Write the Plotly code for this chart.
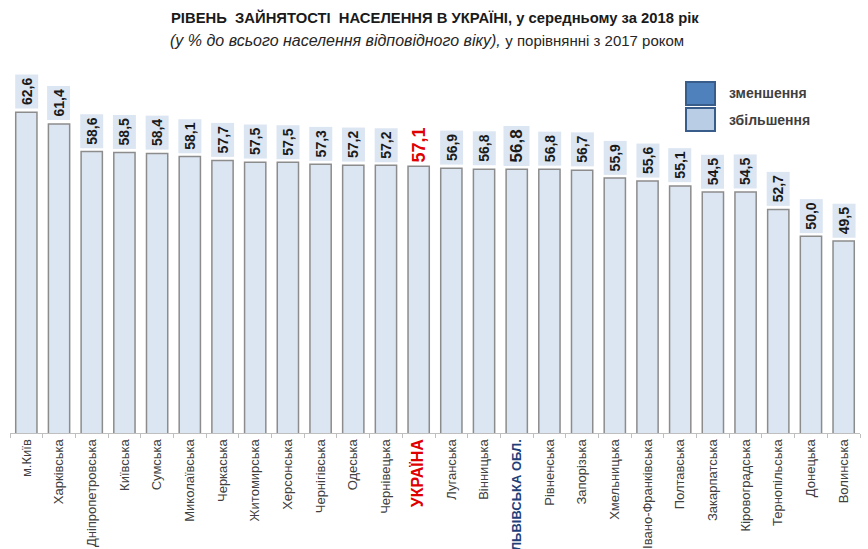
import plotly.graph_objects as go

regions = ["м.Київ", "Харківська", "Дніпропетровська", "Київська", "Сумська",
           "Миколаївська", "Черкаська", "Житомирська", "Херсонська", "Чернігівська",
           "Одеська", "Чернівецька", "УКРАЇНА", "Луганська", "Вінницька",
           "ЛЬВІВСЬКА ОБЛ.", "Рівненська", "Запорізька", "Хмельницька",
           "Івано-Франківська", "Полтавська", "Закарпатська", "Кіровоградська",
           "Тернопільська", "Донецька", "Волинська"]
values = [62.6, 61.4, 58.6, 58.5, 58.4, 58.1, 57.7, 57.5, 57.5, 57.3, 57.2, 57.2,
          57.1, 56.9, 56.8, 56.8, 56.8, 56.7, 55.9, 55.6, 55.1, 54.5, 54.5, 52.7,
          50.0, 49.5]
legend_labels = ["зменшення", "збільшення"]
legend_colors = ["#4f81bd", "#b9cde5"]

UKR = "УКРАЇНА"
LVIV = "ЛЬВІВСЬКА ОБЛ."
FONT = "Liberation Sans, Arial, sans-serif"

fig = go.Figure()
fig.add_trace(go.Bar(
    x=regions, y=values,
    marker=dict(color="#dce6f2", line=dict(color="#8c8c8c", width=1.5)),
    hoverinfo="skip",
))

ticktext = []
for r in regions:
    if r == UKR:
        ticktext.append("<b><span style='color:#e00000;font-size:16px'>%s</span></b>" % r)
    elif r == LVIV:
        ticktext.append("<b><span style='color:#1f3f7a;font-size:13px'>%s</span></b>" % r)
    else:
        ticktext.append(r)

annotations = []
for r, v in zip(regions, values):
    txt = ("%.1f" % v).replace(".", ",")
    if r == UKR:
        annotations.append(dict(x=r, y=v, text="<b>%s</b>" % txt, textangle=-90,
                                showarrow=False, yanchor="bottom", yshift=2,
                                font=dict(size=18, color="#e00000", family=FONT)))
    elif r == LVIV:
        annotations.append(dict(x=r, y=v, text="<b>%s</b>" % txt, textangle=-90,
                                showarrow=False, yanchor="bottom", yshift=3,
                                bgcolor="#dce6f2", borderpad=3,
                                font=dict(size=17, color="#1a1a1a", family=FONT)))
    else:
        annotations.append(dict(x=r, y=v, text="<b>%s</b>" % txt, textangle=-90,
                                showarrow=False, yanchor="bottom", yshift=3,
                                bgcolor="#dce6f2", borderpad=3,
                                font=dict(size=14, color="#1a1a1a", family=FONT)))

# title
annotations.append(dict(xref="paper", yref="paper", x=0.5, y=1, xanchor="center", yanchor="middle",
                        xshift=0, yshift=43, showarrow=False,
                        text="<b>РІВЕНЬ  ЗАЙНЯТОСТІ  НАСЕЛЕННЯ В УКРАЇНІ, у середньому за 2018 рік</b>",
                        font=dict(size=14.8, color="#1a1a1a", family=FONT)))
annotations.append(dict(xref="paper", yref="paper", x=0.5, y=1, xanchor="center", yanchor="middle",
                        xshift=-8, yshift=20, showarrow=False,
                        text="<i>(у % до всього населення відповідного віку),</i> <span style='font-size:15px'>у порівнянні з 2017 роком</span>",
                        font=dict(size=16, color="#262626", family=FONT)))

shapes = []
# legend
for i, (lab, col) in enumerate(zip(legend_labels, legend_colors)):
    y0 = 82 + i * 26
    shapes.append(dict(type="rect", xref="paper", yref="paper",
                       x0=(686 - 10) / 850, x1=(715 - 10) / 850,
                       y0=(433 - y0 - 23) / 373, y1=(433 - y0) / 373,
                       fillcolor=col, line=dict(color="#385d8a", width=2)))
    annotations.append(dict(xref="paper", yref="paper", x=(727 - 10) / 850,
                            y=(433 - y0 - 11.5) / 373, xanchor="left", yanchor="middle",
                            showarrow=False, text="<b>%s</b>" % lab,
                            font=dict(size=14, color="#404040", family=FONT)))

fig.update_layout(
    width=868, height=549,
    margin=dict(l=10, r=8, t=60, b=116),
    plot_bgcolor="white", paper_bgcolor="white",
    bargap=0.35, showlegend=False,
    annotations=annotations, shapes=shapes,
    xaxis=dict(tickmode="array", tickvals=regions, ticktext=ticktext, tickangle=-90,
               showline=True, linecolor="#bfbfbf", linewidth=1, automargin=False,
               ticks="outside", tickson="boundaries", ticklen=4, tickcolor="#bfbfbf",
               tickfont=dict(size=13, color="#404040", family=FONT), showgrid=False,
               fixedrange=True),
    yaxis=dict(range=[30, 67.9], visible=False, showgrid=False, fixedrange=True),
)

fig.write_html("out.html", config={"displayModeBar": False},
               post_script="document.body.style.margin='0px';")
